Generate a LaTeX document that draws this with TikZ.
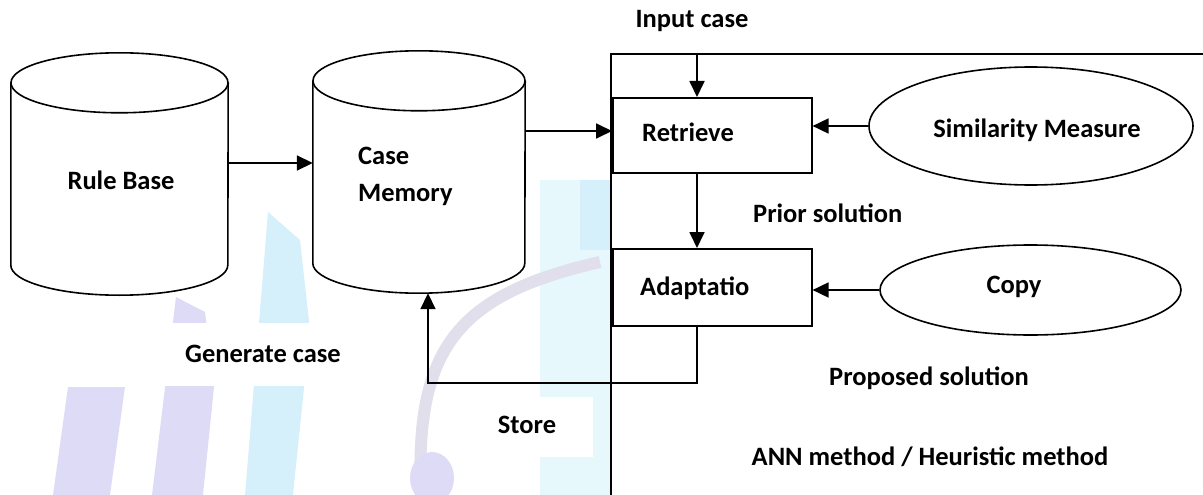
\documentclass[tikz,border=0pt]{standalone}
\usepackage{fontspec}
\setmainfont{Carlito}
\usetikzlibrary{arrows.meta,shapes.geometric}
\definecolor{wmpurple}{RGB}{222,219,246}
\definecolor{wmcyan}{RGB}{214,240,251}
\definecolor{wmpale}{RGB}{230,248,251}
\definecolor{wmgrey}{RGB}{224,223,235}
\begin{document}
\begin{tikzpicture}[x=1pt,y=-1pt,
  every node/.style={font=\fontsize{26.5}{37}\selectfont\bfseries, inner sep=0pt},
  line/.style={line width=1.6pt},
  arr/.style={line width=1.8pt, -{Triangle[length=16pt,width=15pt]}},
  cyl/.style={minimum width=#1, minimum height=242pt, inner sep=0pt},
  box/.style={draw, line width=1.6pt, fill=white, rectangle, minimum width=199pt, anchor=north west},
  oval/.style={draw, line width=1.6pt, fill=white, ellipse, inner sep=0pt},
]
\useasboundingbox (0,0) rectangle (1203,495);

% faint background logo
\fill[wmpale] (540,180) rectangle (611,495);
\fill[wmcyan] (580,180) rectangle (611,250);
\fill[wmpurple] (68,387) -- (125,387) -- (110,495) -- (53,495) -- cycle;
\fill[wmpurple] (176,297) -- (205,312) -- (214,387) -- (203,495) -- (152,495) -- cycle;
\fill[wmcyan] (268,212) -- (300,240) -- (310,330) -- (293,495) -- (245,495) -- cycle;
\draw[wmgrey, line width=12pt] (421,495) .. controls (415,350) and (455,295) .. (600,262);
\fill[wmpurple] (432,478) ellipse[x radius=22pt, y radius=26pt];
\fill[white] (150,323) rectangle (393,386);
\fill[white] (487,397) rectangle (593,457);

% databases
\node[cyl=217pt] (rb) at (119.5,174) {};
\node[cyl=212pt] (cm) at (419,172) {};
\foreach \c/\r in {rb/108.5, cm/106} {
  \fill[white] ([yshift=-30pt]\c.north west) -- ([yshift=30pt]\c.south west)
    arc[start angle=180, end angle=360, x radius=\r pt, y radius=30pt]
    -- ([yshift=-30pt]\c.north east)
    arc[start angle=0, end angle=180, x radius=\r pt, y radius=30pt] -- cycle;
  \draw[line] ([yshift=-30pt]\c.north west) -- ([yshift=30pt]\c.south west)
    arc[start angle=180, end angle=360, x radius=\r pt, y radius=30pt]
    -- ([yshift=-30pt]\c.north east);
  \draw[line] ([yshift=-30pt]\c.north) ellipse[x radius=\r pt, y radius=30pt];
}
\node (rbt) at (121,180) {Rule Base};
\node[anchor=west, align=left] (cmt) at (358,176) {Case\\Memory};

% system frame
\coordinate (ftop) at (611,54);
\coordinate (fright) at (1203,54);
\coordinate (fbot) at (611,495);
\coordinate (inp) at (697,54);

% process boxes and methods
\node[box, minimum height=75pt] (ret) at (612,97) {};
\node[box, minimum height=77pt] (ada) at (612,248) {};
\node[oval, minimum width=324pt, minimum height=118pt] (sim) at (1031,126) {};
\node[oval, minimum width=301pt, minimum height=90pt] (copy) at (1030.5,290) {};
\draw[line] (fright) -- (ftop) -- (fbot);

\node[anchor=west] (rett) at (642,132) {Retrieve};
\node[anchor=west] (adat) at (640,288) {Adaptatio};
\node (simt) at (1037,130) {Similarity Measure};
\node (copyt) at (1014,287) {Copy};

% connectors
\coordinate (rbout) at ([yshift=11pt]rb.east);
\coordinate (cmout) at ([yshift=41pt]cm.east);
\coordinate (fb) at (428,383);
\draw[arr] (rbout) -- (rbout -| cm.west);
\draw[arr] (cmout) -- (cmout -| ret.west);
\draw[arr] (inp) -- (inp |- ret.north);
\draw[arr] (sim.west) -- (sim.west -| ret.east);
\draw[arr] (inp |- ret.south) -- (inp |- ada.north);
\draw[arr] (copy.west) -- (copy.west -| ada.east);
\draw[arr] (inp |- ada.south) |- (fb) -- (fb |- cm.south);

% labels
\node (inpt) at (692,21) {Input case};
\node[anchor=west] (prior) at (753,213) {Prior solution};
\node (gen) at (263,354) {Generate case};
\node (prop) at (929,378) {Proposed solution};
\node (store) at (527,425) {Store};
\node (ann) at (930,457) {ANN method / Heuristic method};
\end{tikzpicture}
\end{document}
